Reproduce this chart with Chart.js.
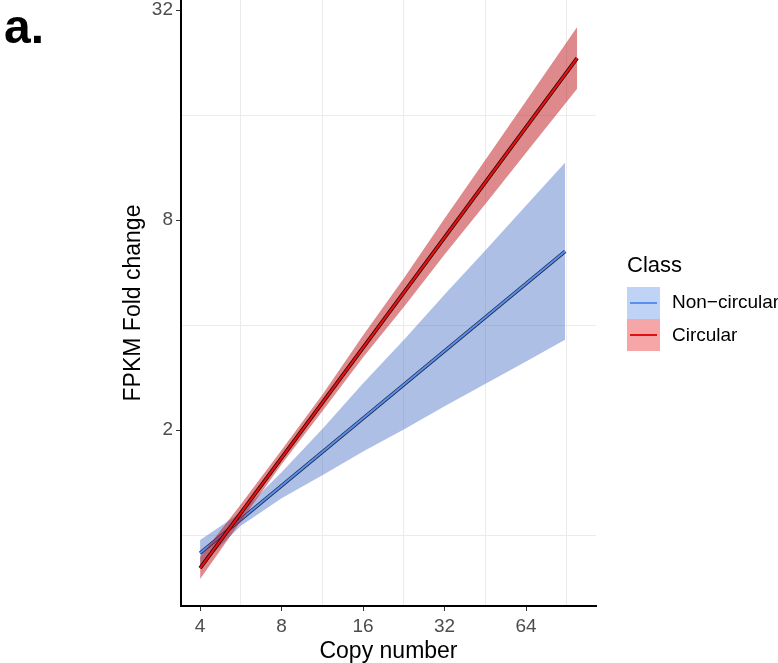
<!DOCTYPE html>
<html>
<head>
<meta charset="utf-8">
<script src="https://cdn.jsdelivr.net/npm/chart.js@4.4.1/dist/chart.umd.min.js"></script>
<style>
  body { margin: 0; background: #fff; }
  #wrap { position: relative; width: 778px; height: 663px; font-family: "Liberation Sans", Arial, sans-serif; overflow: hidden; }
  #myChart { position: absolute; left: 0; top: 0; }
  #panel { position: absolute; left: 4px; top: -1px; font-size: 48px; font-weight: bold; color: #000; }
  #legend { position: absolute; left: 627px; top: 250px; color: #000; }
  #legend .ttl { font-size: 22px; position: absolute; left: 0; top: 2px; white-space: nowrap; }
  #legend .key { position: absolute; left: 0; width: 33px; height: 32px; }
  #legend .key span { position: absolute; left: 3px; right: 3px; top: 15px; height: 2px; }
  #legend .lab { position: absolute; left: 45px; font-size: 19px; white-space: nowrap; }
</style>
</head>
<body>
<div id="wrap">
  <canvas id="myChart" width="778" height="663"></canvas>
  <div id="panel">a.</div>
  <div id="legend">
    <div class="ttl">Class</div>
    <div class="key" style="top:37px;background:#bfd3f6"><span style="background:#5b8fee"></span></div>
    <div class="lab" style="top:41px">Non−circular</div>
    <div class="key" style="top:69px;background:#f6a6a7"><span style="background:#e01010"></span></div>
    <div class="lab" style="top:74px">Circular</div>
  </div>
</div>
<script>
// ejes (escala log2 en los dos)
const xTicks = [4, 8, 16, 32, 64];
const xGrid = [5.66, 11.31, 22.63, 45.25, 90.51];
const yTicks = [2, 8, 32];
const yGrid = [1, 4, 16];

// Non-circular: banda de confianza y recta ajustada
const nonCircX = [4, 5.66, 8, 11.4, 16, 22.7, 32, 45.5, 64, 89.2];
const nonCircUpper = [0.968, 1.160, 1.514, 2.026, 2.723, 3.638, 4.891, 6.580, 8.80, 11.69];
const nonCircLower = [0.815, 1.063, 1.275, 1.490, 1.735, 2.010, 2.339, 2.721, 3.147, 3.633];
const nonCircFitX = [4, 89.2];
const nonCircFitY = [0.888, 6.51];

// Circular
const circX = [4, 5.66, 8, 11.4, 16, 22.7, 32, 45.5, 64, 98.8];
const circUpper = [0.865, 1.225, 1.753, 2.547, 3.742, 5.464, 8.08, 11.97, 17.56, 28.6];
const circLower = [0.748, 1.098, 1.595, 2.283, 3.236, 4.525, 6.369, 8.944, 12.47, 19.03];
const circFitX = [4, 98.8];
const circFitY = [0.804, 23.3];

const fam = '"Liberation Sans", Arial, sans-serif';
const pts = (xs, ys) => xs.map((x, i) => ({ x: x, y: ys[i] }));
const clear = 'rgba(0,0,0,0)';

function band(label, xs, ys, fill, color, order) {
  return { label: label, data: pts(xs, ys), showLine: true, borderWidth: 0, pointRadius: 0,
           fill: fill, backgroundColor: color, order: order };
}
function line(label, xs, ys, color, width, order) {
  return { label: label, data: pts(xs, ys), showLine: true, borderColor: color, borderWidth: width,
           pointRadius: 0, fill: false, order: order, borderCapStyle: 'butt' };
}

const ctx = document.getElementById('myChart');
const data = {
  datasets: [
    band('Non-circular upper', nonCircX, nonCircUpper, 1, 'rgba(80,120,200,0.47)', 9),
    band('Non-circular lower', nonCircX, nonCircLower, false, clear, 9),
    line('Non-circular edge', nonCircFitX, nonCircFitY, '#1d2b4c', 3.6, 8),
    line('Non-circular', nonCircFitX, nonCircFitY, '#5b8fee', 2, 7),
    band('Circular upper', circX, circUpper, 5, 'rgba(190,20,25,0.5)', 6),
    band('Circular lower', circX, circLower, false, clear, 6),
    line('Circular edge', circFitX, circFitY, '#2a0505', 3.8, 5),
    line('Circular', circFitX, circFitY, '#e81010', 2.2, 4)
  ]
};

function axis(min, max, majors, minors, title, horizontal) {
  return {
    type: 'logarithmic', min: min, max: max, bounds: 'data',
    afterBuildTicks: s => { s.ticks = majors.concat(minors).sort((a, b) => a - b).map(v => ({ value: v })); },
    afterFit: s => {
      if (horizontal) { s.height = 57; s.paddingLeft = 0; s.paddingRight = 0; }
      else { s.width = 181; s.paddingTop = 0; s.paddingBottom = 0; }
    },
    ticks: {
      autoSkip: false, maxRotation: 0, padding: horizontal ? 4 : 3,
      callback: v => majors.includes(v) ? String(v) : '',
      color: '#4d4d4d', font: { family: fam, size: 19 }
    },
    grid: {
      lineWidth: 1, tickLength: 5,
      color: c => (c.tick && majors.includes(c.tick.value)) ? clear : '#ebebeb',
      tickColor: c => (c.tick && majors.includes(c.tick.value)) ? '#333333' : clear
    },
    border: { display: true, color: '#000', width: 2 },
    title: {
      display: true, text: title, color: '#000',
      font: { family: fam, size: 23, lineHeight: horizontal ? 1.0 : 1.2 },
      padding: horizontal ? { top: 0, bottom: 0 } : { top: 120, bottom: 0 }
    }
  };
}

const config = {
  type: 'scatter',
  data: data,
  options: {
    responsive: false,
    animation: false,
    layout: { padding: { left: 0, right: 182, top: 0, bottom: 0 } },
    plugins: { legend: { display: false }, tooltip: { enabled: false } },
    scales: {
      x: axis(3.40, 116, xTicks, xGrid, 'Copy number', true),
      y: axis(0.626, 34.2, yTicks, yGrid, 'FPKM Fold change', false)
    }
  }
};
new Chart(ctx, config);
</script>
</body>
</html>
